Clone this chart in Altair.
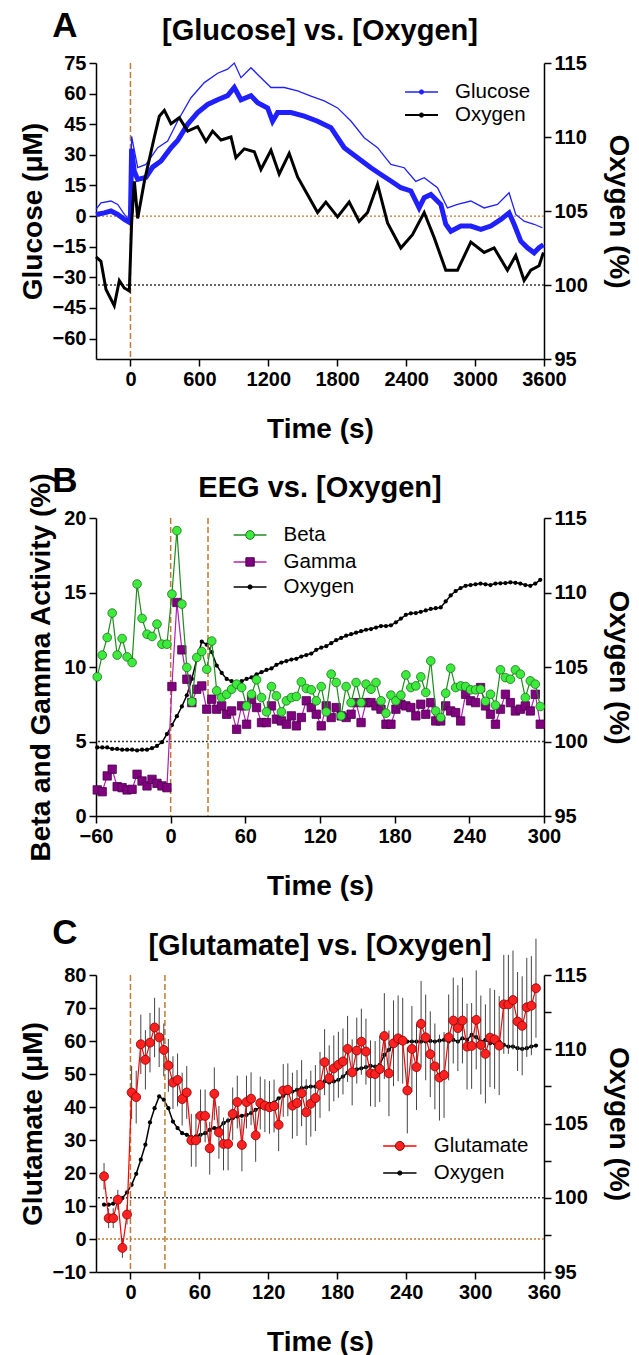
import altair as alt
import pandas as pd

FONT = "Liberation Sans"
BROWN = "#C27A33"
BLUE = "#2020FF"
GREEN_FILL = "#3CEB3C"
GREEN_LINE = "#1E8C1E"
PURPLE = "#800080"
PURPLE_LINE = "#B020B0"
RED = "#FF2020"
DARKRED = "#8B0000"

# ---------------- Panel A : Glucose vs Oxygen ----------------
a_glu_time = [-300, -227, -170, -111, -53, -1, 10, 33, 63, 135, 193, 266, 353, 411, 498, 585, 672, 759, 846, 904,
              962, 1049, 1107, 1194, 1237, 1281, 1397, 1513, 1629, 1745, 1861, 1977, 2093, 2180, 2267, 2354, 2441,
              2513, 2557, 2615, 2702, 2745, 2789, 2876, 2963, 3050, 3137, 3224, 3296, 3340, 3398, 3456, 3514, 3557, 3595]
a_glu = [0.8, 1.6, 2.5, 0.8, -1.6, -3.3, 33, 22, 18, 19, 24, 27, 33.5, 37, 45, 50.7, 54.7, 57, 59, 63,
         57, 59, 55.5, 53, 46.5, 50.7, 50.7, 49, 46.5, 43.3, 33.5, 28.6, 23.7, 20.4, 17.2, 13.9, 12.3,
         4, 9, 10.6, 5.7, -4, -7.4, -4.9, -4.9, -6.5, -4.9, -1.6, 1.6, -4, -12.3, -15.5, -18, -15.5, -14]
a_glu_hi_time = [-300, -257, -170, -111, -53, -1, 10, 63, 135, 237, 324, 411, 527, 643, 759, 846, 904, 962, 1049, 1107,
                 1223, 1339, 1455, 1571, 1687, 1803, 1919, 2035, 2151, 2267, 2383, 2484, 2557, 2673, 2760, 2847, 2963,
                 3079, 3195, 3296, 3354, 3427, 3514, 3586]
a_glu_hi = [3.3, 6.5, 7.4, 5.7, 0.8, -2.5, 39, 23.7, 25.3, 33.5, 36.8, 46.6, 58, 65.4, 70, 72, 75, 67.8, 72.7, 69.4,
            63, 63, 61.3, 58.8, 56.4, 53, 46.6, 38.4, 33.5, 25.3, 23.7, 17, 18.8, 13.9, 4, 5.7, 7.4,
            4, 5.7, 11.4, 0.8, -2.5, -4, -5.7]
a_oxy_time = [-300, -257, -213, -141, -97, -54, -10, 10, 34, 63, 121, 208, 251, 295, 353, 425, 498, 585, 657, 715,
              788, 875, 918, 991, 1078, 1136, 1223, 1295, 1382, 1455, 1542, 1629, 1701, 1803, 1904, 1991, 2064, 2151,
              2238, 2354, 2455, 2557, 2644, 2745, 2847, 2963, 3079, 3166, 3282, 3354, 3427, 3485, 3557, 3595]
a_oxy = [101.9, 101.6, 99.7, 98.6, 100.3, 99.8, 99.6, 104.2, 107, 104.5, 107, 110, 111.4, 111.8, 110.9, 111.3, 110.4,
         110.7, 109.7, 110.4, 109.8, 110, 108.6, 109.2, 109, 107.8, 109.1, 107.5, 108.9, 107.3, 106.1, 104.9, 105.6,
         104.6, 105.6, 104.3, 104.9, 106.8, 104.2, 102.5, 103.4, 104.9, 103.2, 101, 101, 102.9, 102.2, 102.5, 101,
         102, 100.3, 101, 101.3, 102.2]

# ---------------- Panel B : EEG vs Oxygen ----------------
b_time = [-59, -55, -51, -47, -43, -39, -35, -31, -27, -23, -19, -15, -11, -7, -3, 1, 5, 9, 13, 17, 21, 25, 29, 33,
          37, 41, 45, 49, 53, 57, 61, 65, 69, 73, 77, 81, 85, 89, 93, 97, 101, 105, 109, 113, 117, 121, 125, 129,
          133, 137, 141, 145, 149, 153, 157, 161, 165, 169, 173, 177, 181, 185, 189, 193, 197, 201, 205, 209, 213,
          217, 221, 225, 229, 233, 237, 241, 245, 249, 253, 257, 261, 265, 269, 273, 277, 281, 285, 289, 293, 297]
b_beta = [9.34, 10.8, 11.98, 13.62, 10.8, 11.91, 10.68, 10.3, 15.57, 13.26,
          12.2, 12.05, 12.88, 11.53, 11.53, 14.89, 19.15, 14.22, 9.97, 7.66,
          10.64, 11.04, 9.85, 11.74, 8.4, 7.95, 8.17, 8.51, 8.85, 8.62,
          7.39, 8.17, 9.14, 7.95, 6.99, 8.69, 8.06, 6.99, 7.73, 7.95,
          8.02, 9.0, 8.56, 8.47, 7.73, 8.69, 6.99, 9.52, 8.96, 6.72,
          8.69, 7.61, 8.96, 7.61, 8.85, 8.51, 8.96, 7.73, 6.9, 8.11,
          7.73, 8.11, 9.47, 8.62, 8.73, 9.34, 8.29, 10.41, 7.05, 6.61,
          8.24, 9.92, 8.62, 8.73, 8.69, 8.47, 8.47, 8.51, 7.7, 8.17,
          7.44, 9.81, 9.29, 9.18, 9.81, 9.52, 7.95, 9.07, 8.85, 7.35]
b_gamma = [1.75, 1.63, 2.69, 3.14, 1.97, 1.9, 1.75, 1.79, 2.8, 2.35,
           2.02, 2.46, 2.19, 2.02, 1.9, 8.69, 14.33, 11.15, 9.18, 7.61,
           8.51, 8.73, 7.17, 7.84, 7.17, 7.39, 6.83, 7.05, 5.82, 7.39,
           6.16, 7.84, 7.28, 6.27, 6.27, 7.39, 6.5, 6.38, 6.16, 6.72,
           6.05, 6.61, 7.73, 7.28, 6.83, 6.05, 7.39, 6.61, 7.28, 6.72,
           6.61, 6.83, 7.61, 6.27, 7.61, 7.61, 7.39, 7.17, 6.16, 6.16,
           7.17, 7.5, 7.39, 7.28, 6.72, 7.5, 6.83, 7.61, 6.38, 6.38,
           7.39, 7.05, 6.94, 6.38, 8.17, 7.73, 7.61, 8.62, 7.39, 6.83,
           6.16, 7.17, 8.17, 7.61, 7.05, 7.17, 7.39, 7.05, 8.17, 6.16]
b_oxy = [99.6, 99.6, 99.6, 99.5, 99.5, 99.45, 99.45, 99.45, 99.4, 99.45,
         99.45, 99.55, 99.7, 99.95, 100.5, 101.1, 101.7, 102.35, 103.1, 104.2,
         105.5, 106.7, 106.5, 106.0, 105.1, 104.6, 104.2, 104.05, 103.9, 104.05,
         104.2, 104.3, 104.5, 104.65, 104.8, 104.9, 105.15, 105.3, 105.4, 105.5,
         105.55, 105.7, 105.8, 105.9, 106.15, 106.3, 106.4, 106.6, 106.8, 106.95,
         107.1, 107.2, 107.3, 107.4, 107.5, 107.55, 107.65, 107.75, 107.75, 107.8,
         108.0, 108.25, 108.5, 108.6, 108.62, 108.7, 108.8, 108.9, 108.95, 109.0,
         109.4, 109.8, 110.1, 110.3, 110.45, 110.5, 110.55, 110.6, 110.55, 110.5,
         110.6, 110.62, 110.63, 110.68, 110.65, 110.6, 110.5, 110.45, 110.6, 110.85]

# ---------------- Panel C : Glutamate vs Oxygen ----------------
c_time = [-23, -19, -15, -11, -7, -3, 1, 5, 9, 13, 17, 21, 25, 29, 33, 37, 41, 45, 49, 53, 57, 61, 65, 69, 73, 77,
          81, 85, 89, 93, 97, 101, 105, 109, 113, 117, 121, 125, 129, 133, 137, 141, 145, 149, 153, 157, 161, 165,
          169, 173, 177, 181, 185, 189, 193, 197, 201, 205, 209, 213, 217, 221, 225, 229, 233, 237, 241, 245, 249,
          253, 257, 261, 265, 269, 273, 277, 281, 285, 289, 293, 297, 301, 305, 309, 313, 317, 321, 325, 329, 333,
          337, 341, 345, 349, 353]
c_glu = [19.0, 6.3, 6.3, 11.9, -2.7, 7.4, 44.4, 43.0, 59.0, 54.3,
         59.5, 64.1, 61.1, 57.3, 52.6, 47.4, 48.2, 42.4, 44.4, 29.9,
         29.9, 37.3, 37.3, 27.5, 44.0, 32.3, 28.8, 28.8, 37.9, 41.5,
         28.5, 41.5, 42.5, 31.4, 41.2, 40.4, 39.9, 40.3, 34.6, 45.0,
         45.2, 40.4, 41.2, 44.2, 38.4, 41.0, 42.7, 46.7, 53.6, 48.7,
         51.7, 52.8, 53.8, 57.6, 50.5, 57.1, 59.8, 56.8, 50.2, 50.0,
         51.5, 61.5, 50.2, 59.3, 60.8, 60.1, 45.0, 57.6, 52.1, 65.2,
         61.1, 56.0, 52.3, 48.9, 49.7, 61.1, 66.2, 63.9, 66.2, 58.3,
         58.5, 66.4, 58.8, 56.1, 61.0, 60.5, 58.6, 71.1, 71.1, 72.4,
         65.9, 64.6, 70.2, 70.7, 76.0]
c_sem = [4, 3, 3, 3, 3, 3, 8, 8, 9, 9, 9, 9, 9, 8, 8, 8, 8, 8, 8, 8,
         8, 8, 8, 8, 8, 8, 8, 8, 8, 8, 8, 8, 8, 8, 8, 8, 8, 8, 8, 8, 8,
         10, 10, 10, 10, 10, 10, 10, 10, 10, 10, 10, 10, 10, 10, 10, 10, 10, 10, 10, 10,
         13, 13, 13, 13, 13, 13, 13, 13, 13, 13, 13, 13, 13, 13, 13, 13, 13, 13, 13, 13,
         15, 15, 15, 15, 15, 15, 15, 15, 15, 15, 15, 15, 15, 15]
c_oxy = [99.53, 99.53, 99.6, 99.75, 99.98, 100.36, 100.87, 101.61, 102.56, 103.57,
         105.07, 106.03, 106.82, 106.6, 106.03, 105.13, 104.69, 104.35, 104.24, 104.08,
         104.13, 104.24, 104.35, 104.57, 104.69, 104.69, 105.02, 105.2, 105.36, 105.47,
         105.52, 105.58, 105.7, 105.92, 106.1, 106.26, 106.32, 106.41, 106.7, 106.86,
         107.04, 107.15, 107.26, 107.38, 107.44, 107.49, 107.49, 107.67, 107.83, 107.76,
         107.83, 107.94, 108.16, 108.43, 108.57, 108.65, 108.72, 108.79, 108.88, 108.83,
         108.95, 109.62, 109.96, 110.29, 110.45, 110.52, 110.52, 110.52, 110.52, 110.52,
         110.52, 110.56, 110.52, 110.58, 110.63, 110.52, 110.63, 110.52, 110.74, 110.63,
         110.96, 110.81, 110.52, 110.63, 110.4, 110.4, 110.52, 110.29, 110.18, 110.18,
         110.07, 110.02, 110.07, 110.18, 110.25]

# legend entries (label, y position in left-axis units) and x span in time units
a_leg_names = ["Glucose", "Oxygen"]
a_leg_y = [60.8, 49.5]
a_leg_x = [2390, 2677, 2825]
b_leg_names = ["Beta", "Gamma", "Oxygen"]
b_leg_y = [18.86, 17.05, 15.37]
b_leg_x = [50.6, 77, 90.7]
c_leg_names = ["Glutamate", "Oxygen"]
c_leg_y = [28.2, 20.0]
c_leg_x = [220, 249, 264]

W = 448


def xenc(field, dom, vals):
    return alt.X(field, type="quantitative",
                 scale=alt.Scale(domain=dom, nice=False, zero=False),
                 axis=alt.Axis(values=vals, title="Time (s)", titlePadding=26, format="d",
                               labelFlush=False, labelOverlap=False))


def yleft(field, dom, vals, title, tpad=5):
    return alt.Y(field, type="quantitative",
                 scale=alt.Scale(domain=dom, nice=False, zero=False),
                 axis=alt.Axis(values=vals, title=title, orient="left", titlePadding=tpad, format="d",
                               labelFlush=False, labelOverlap=False))


def yright(field, vals, label_expr=None):
    kw = dict(values=vals, title="Oxygen (%)", orient="right", titlePadding=16,
              labelFlush=False, labelOverlap=False)
    if label_expr:
        kw["labelExpr"] = label_expr
    return alt.Y(field, type="quantitative",
                 scale=alt.Scale(domain=[95, 115], nice=False, zero=False),
                 axis=alt.Axis(**kw))


def legend_layers(X, Y, names, ys, xs, styles):
    layers = []
    for name, yv, st in zip(names, ys, styles):
        d = pd.DataFrame({"t": [xs[0]], "t1": [xs[1]], "tm": [(xs[0] + xs[1]) / 2], "tl": [xs[2]],
                          "v": [yv], "lab": [name]})
        base = alt.Chart(d)
        layers.append(base.mark_rule(color=st["line"], strokeWidth=st.get("lw", 1.5)).encode(
            x=X("t"), x2=alt.X2("t1"), y=Y("v")))
        layers.append(base.mark_point(filled=True, shape=st["shape"], size=st["size"],
                                      fill=st["fill"], stroke=st["stroke"], strokeWidth=1, opacity=1).encode(
            x=X("tm"), y=Y("v")))
        layers.append(base.mark_text(align="left", baseline="middle", font=FONT, fontSize=20.5,
                                     color="black").encode(x=X("tl"), y=Y("v"), text="lab:N"))
    return layers


def heading(letter_ch, title_txt, ly, ty):
    one = pd.DataFrame({"k": [0]})
    # invisible anchor so that every panel has the same top extent
    anchor = alt.Chart(one).mark_text(
        font=FONT, fontSize=36, fontWeight="bold", align="center", baseline="middle", opacity=0
    ).encode(x=alt.value(-31), y=alt.value(-44), text=alt.value(letter_ch))
    let = alt.Chart(one).mark_text(
        font=FONT, fontSize=35, fontWeight="bold", align="center", baseline="middle", color="black"
    ).encode(x=alt.value(-31), y=alt.value(ly), text=alt.value(letter_ch))
    tit = alt.Chart(one).mark_text(
        font=FONT, fontSize=29, fontWeight="bold", align="center", baseline="middle", color="black"
    ).encode(x=alt.value(W / 2), y=alt.value(ty), text=alt.value(title_txt))
    return [anchor, let, tit]


# ---------- Panel A ----------
XA = lambda f: xenc(f, [-300, 3600], [0, 600, 1200, 1800, 2400, 3000, 3600])
YA = lambda f: yleft(f, [-70, 75], [-60, -45, -30, -15, 0, 15, 30, 45, 60, 75], "Glucose (μM)")
dfa_g = pd.DataFrame({"t": a_glu_time, "v": a_glu})
dfa_h = pd.DataFrame({"t": a_glu_hi_time, "v": a_glu_hi})
dfa_o = pd.DataFrame({"t": a_oxy_time, "v": a_oxy})

a_left = alt.layer(
    alt.Chart(pd.DataFrame({"t": [0]})).mark_rule(color=BROWN, strokeDash=[6, 3], strokeWidth=1.5).encode(x=XA("t")),
    alt.Chart(pd.DataFrame({"v": [0]})).mark_rule(color=BROWN, strokeDash=[2, 2], strokeWidth=1.3).encode(y=YA("v")),
    alt.Chart(dfa_h).mark_line(color=BLUE, strokeWidth=1.3).encode(x=XA("t"), y=YA("v")),
    alt.Chart(dfa_g).mark_line(color=BLUE, strokeWidth=5).encode(x=XA("t"), y=YA("v")),
    *legend_layers(XA, YA, a_leg_names, a_leg_y, a_leg_x,
                   [dict(line=BLUE, shape="circle", size=18, fill=BLUE, stroke=BLUE),
                    dict(line="black", shape="circle", size=18, fill="black", stroke="black", lw=2)]),
    *heading("A", "[Glucose] vs. [Oxygen]", -37, -32),
)
a_right = alt.layer(
    alt.Chart(pd.DataFrame({"v": [100]})).mark_rule(color="#333333", strokeDash=[2, 2], strokeWidth=1.3).encode(
        y=yright("v", [95, 100, 105, 110, 115])),
    alt.Chart(dfa_o).mark_line(color="black", strokeWidth=3).encode(
        x=XA("t"), y=yright("v", [95, 100, 105, 110, 115])),
)
panel_a = alt.layer(a_left, a_right).resolve_scale(y="independent").properties(width=W, height=296)

# ---------- Panel B ----------
XB = lambda f: xenc(f, [-60, 300], [-60, 0, 60, 120, 180, 240, 300])
YB = lambda f: yleft(f, [0, 20], [0, 5, 10, 15, 20], "Beta and Gamma Activity (%)", tpad=8)
dfb = pd.DataFrame({"t": b_time, "beta": b_beta, "gamma": b_gamma, "oxy": b_oxy})

b_right = alt.layer(
    alt.Chart(pd.DataFrame({"v": [100]})).mark_rule(color="#333333", strokeDash=[2, 2], strokeWidth=1.3).encode(
        y=yright("v", [95, 100, 105, 110, 115])),
    alt.Chart(dfb).mark_line(color="black", strokeWidth=1.5, point=alt.OverlayMarkDef(
        filled=True, size=18, color="black")).encode(x=XB("t"), y=yright("oxy", [95, 100, 105, 110, 115])),
)
b_left = alt.layer(
    alt.Chart(pd.DataFrame({"t": [0, 30]})).mark_rule(color=BROWN, strokeDash=[6, 3], strokeWidth=1.5).encode(
        x=XB("t")),
    alt.Chart(dfb).mark_line(color=PURPLE_LINE, strokeWidth=1.2).encode(x=XB("t"), y=YB("gamma")),
    alt.Chart(dfb).mark_point(shape="square", filled=True, size=70, fill=PURPLE, stroke="#4A004A",
                              strokeWidth=0.8, opacity=1).encode(x=XB("t"), y=YB("gamma")),
    alt.Chart(dfb).mark_line(color=GREEN_LINE, strokeWidth=1.2).encode(x=XB("t"), y=YB("beta")),
    alt.Chart(dfb).mark_point(shape="circle", filled=True, size=75, fill=GREEN_FILL, stroke="#207020",
                              strokeWidth=0.8, opacity=1).encode(x=XB("t"), y=YB("beta")),
    *legend_layers(XB, YB, b_leg_names, b_leg_y, b_leg_x,
                   [dict(line=GREEN_LINE, shape="circle", size=75, fill=GREEN_FILL, stroke="#207020"),
                    dict(line=PURPLE_LINE, shape="square", size=70, fill=PURPLE, stroke="#4A004A"),
                    dict(line="black", shape="circle", size=18, fill="black", stroke="black")]),
    *heading("B", "EEG vs. [Oxygen]", -37, -30),
)
panel_b = alt.layer(b_right, b_left).resolve_scale(y="independent").properties(width=W, height=298)

# ---------- Panel C ----------
XC = lambda f: xenc(f, [-30, 360], [0, 60, 120, 180, 240, 300, 360])
YC = lambda f: yleft(f, [-10, 80], [-10, 0, 10, 20, 30, 40, 50, 60, 70, 80], "Glutamate (μM)")
dfc = pd.DataFrame({"t": c_time, "glu": c_glu, "oxy": c_oxy,
                    "lo": [g - s for g, s in zip(c_glu, c_sem)], "hi": [g + s for g, s in zip(c_glu, c_sem)]})
c_rvals = [95, 97.5, 100, 102.5, 105, 107.5, 110, 112.5, 115]
c_lexpr = "datum.value % 5 == 0 ? datum.label : ''"

c_right = alt.layer(
    alt.Chart(pd.DataFrame({"v": [100]})).mark_rule(color="#333333", strokeDash=[2, 2], strokeWidth=1.3).encode(
        y=yright("v", c_rvals, c_lexpr)),
    alt.Chart(dfc).mark_line(color="black", strokeWidth=1.5, point=alt.OverlayMarkDef(
        filled=True, size=18, color="black")).encode(x=XC("t"), y=yright("oxy", c_rvals, c_lexpr)),
)
c_left = alt.layer(
    alt.Chart(pd.DataFrame({"t": [0, 30]})).mark_rule(color=BROWN, strokeDash=[6, 3], strokeWidth=1.5).encode(
        x=XC("t")),
    alt.Chart(pd.DataFrame({"v": [0]})).mark_rule(color=BROWN, strokeDash=[2, 2], strokeWidth=1.3).encode(y=YC("v")),
    alt.Chart(dfc).mark_rule(color="#444444", strokeWidth=1).encode(x=XC("t"), y=YC("lo"), y2=alt.Y2("hi")),
    alt.Chart(dfc).mark_line(color="#FF0000", strokeWidth=1.2).encode(x=XC("t"), y=YC("glu")),
    alt.Chart(dfc).mark_point(shape="circle", filled=True, size=80, fill=RED, stroke=DARKRED,
                              strokeWidth=0.8, opacity=1).encode(x=XC("t"), y=YC("glu")),
    *legend_layers(XC, YC, c_leg_names, c_leg_y, c_leg_x,
                   [dict(line="#FF0000", shape="circle", size=80, fill=RED, stroke=DARKRED),
                    dict(line="black", shape="circle", size=18, fill="black", stroke="black")]),
    *heading("C", "[Glutamate] vs. [Oxygen]", -42, -29),
)
panel_c = alt.layer(c_right, c_left).resolve_scale(y="independent").properties(width=W, height=297)

chart = alt.vconcat(panel_a, panel_b, panel_c, spacing=13).properties(
    padding={"left": 19, "top": 1, "right": 0, "bottom": 0}, background="white"
).configure_axis(
    labelFont=FONT, labelFontSize=20, labelFontWeight="bold", labelColor="black",
    titleFont=FONT, titleFontSize=28, titleFontWeight="bold", titleColor="black",
    domainColor="black", domainWidth=1.5, tickColor="black", tickWidth=1.5, tickSize=7,
    grid=False, labelPadding=3,
).configure_view(stroke=None)

chart.save("out.html", embed_options={"renderer": "svg", "actions": False})
